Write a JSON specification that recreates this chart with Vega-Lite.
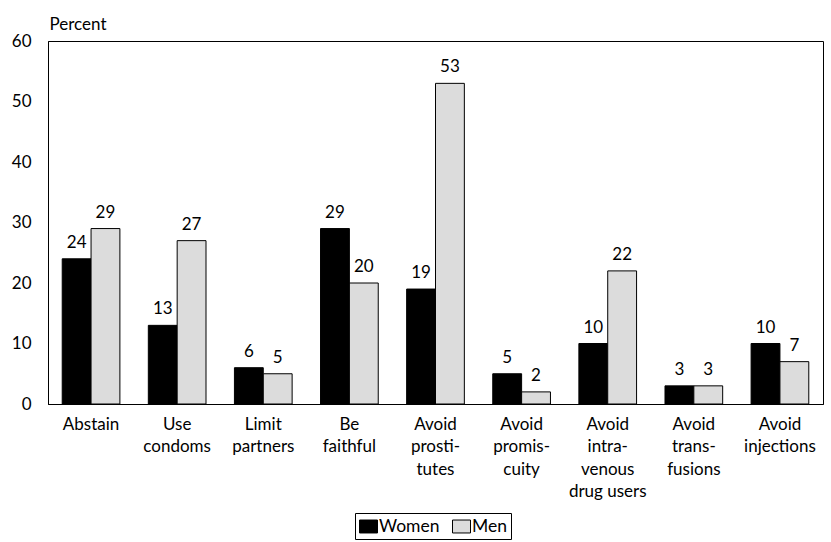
{
  "$schema": "https://vega.github.io/schema/vega-lite/v6.json",
  "width": 775,
  "height": 363,
  "autosize": "none",
  "padding": {"left": 48, "top": 41, "right": 8, "bottom": 138},
  "background": "white",
  "config": {
    "view": {"stroke": "black", "strokeWidth": 1},
    "font": "Lato",
    "axis": {"domainColor": "black", "ticks": false, "grid": false, "labelColor": "black", "titleColor": "black"}
  },
  "data": {
    "values": [
      {"behavior": "Abstain", "sex": "Women", "percent": 24},
      {"behavior": "Abstain", "sex": "Men", "percent": 29},
      {"behavior": "Use|condoms", "sex": "Women", "percent": 13},
      {"behavior": "Use|condoms", "sex": "Men", "percent": 27},
      {"behavior": "Limit|partners", "sex": "Women", "percent": 6},
      {"behavior": "Limit|partners", "sex": "Men", "percent": 5},
      {"behavior": "Be|faithful", "sex": "Women", "percent": 29},
      {"behavior": "Be|faithful", "sex": "Men", "percent": 20},
      {"behavior": "Avoid|prosti-|tutes", "sex": "Women", "percent": 19},
      {"behavior": "Avoid|prosti-|tutes", "sex": "Men", "percent": 53},
      {"behavior": "Avoid|promis-|cuity", "sex": "Women", "percent": 5},
      {"behavior": "Avoid|promis-|cuity", "sex": "Men", "percent": 2},
      {"behavior": "Avoid|intra-|venous|drug users", "sex": "Women", "percent": 10},
      {"behavior": "Avoid|intra-|venous|drug users", "sex": "Men", "percent": 22},
      {"behavior": "Avoid|trans-|fusions", "sex": "Women", "percent": 3},
      {"behavior": "Avoid|trans-|fusions", "sex": "Men", "percent": 3},
      {"behavior": "Avoid|injections", "sex": "Women", "percent": 10},
      {"behavior": "Avoid|injections", "sex": "Men", "percent": 7}
    ]
  },
  "encoding": {
    "x": {
      "field": "behavior", "type": "nominal", "sort": null,
      "scale": {"paddingInner": 0.33, "paddingOuter": 0.165},
      "axis": {"title": null, "labelAngle": 0, "labelExpr": "split(datum.label, '|')", "labelFontSize": 17, "labelLineHeight": 22.5, "labelPadding": 12, "labelBaseline": "top"}
    },
    "xOffset": {"field": "sex", "type": "nominal", "sort": ["Women", "Men"]},
    "y": {
      "field": "percent", "type": "quantitative",
      "scale": {"domain": [0, 60]},
      "axis": {"values": [0, 10, 20, 30, 40, 50, 60], "title": "Percent", "titleAngle": 0, "titleX": 1, "titleY": -12, "titleAlign": "left", "titleBaseline": "alphabetic", "titleFontWeight": "normal", "titleFontSize": 17, "labelFontSize": 17, "labelPadding": 17}
    }
  },
  "layer": [
    {
      "mark": {"type": "bar", "stroke": "black", "strokeWidth": 1},
      "encoding": {
        "color": {
          "field": "sex", "type": "nominal", "sort": ["Women", "Men"],
          "scale": {"domain": ["Women", "Men"], "range": ["#000000", "#dcdcdc"]},
          "legend": {
            "title": null, "orient": "none", "legendX": 307, "legendY": 472, "direction": "horizontal",
            "strokeColor": "black", "padding": 4, "symbolType": "M-1,-0.72H1V0.72H-1Z", "symbolSize": 324,
            "symbolStrokeColor": "black", "symbolStrokeWidth": 1, "symbolOpacity": 1,
            "labelFontSize": 17.5, "labelColor": "black", "columnPadding": 10, "labelOffset": 1
          }
        }
      }
    },
    {
      "mark": {"type": "text", "dy": -11, "baseline": "alphabetic", "fontSize": 17, "color": "black"},
      "encoding": {"text": {"field": "percent", "type": "quantitative"}}
    }
  ]
}
